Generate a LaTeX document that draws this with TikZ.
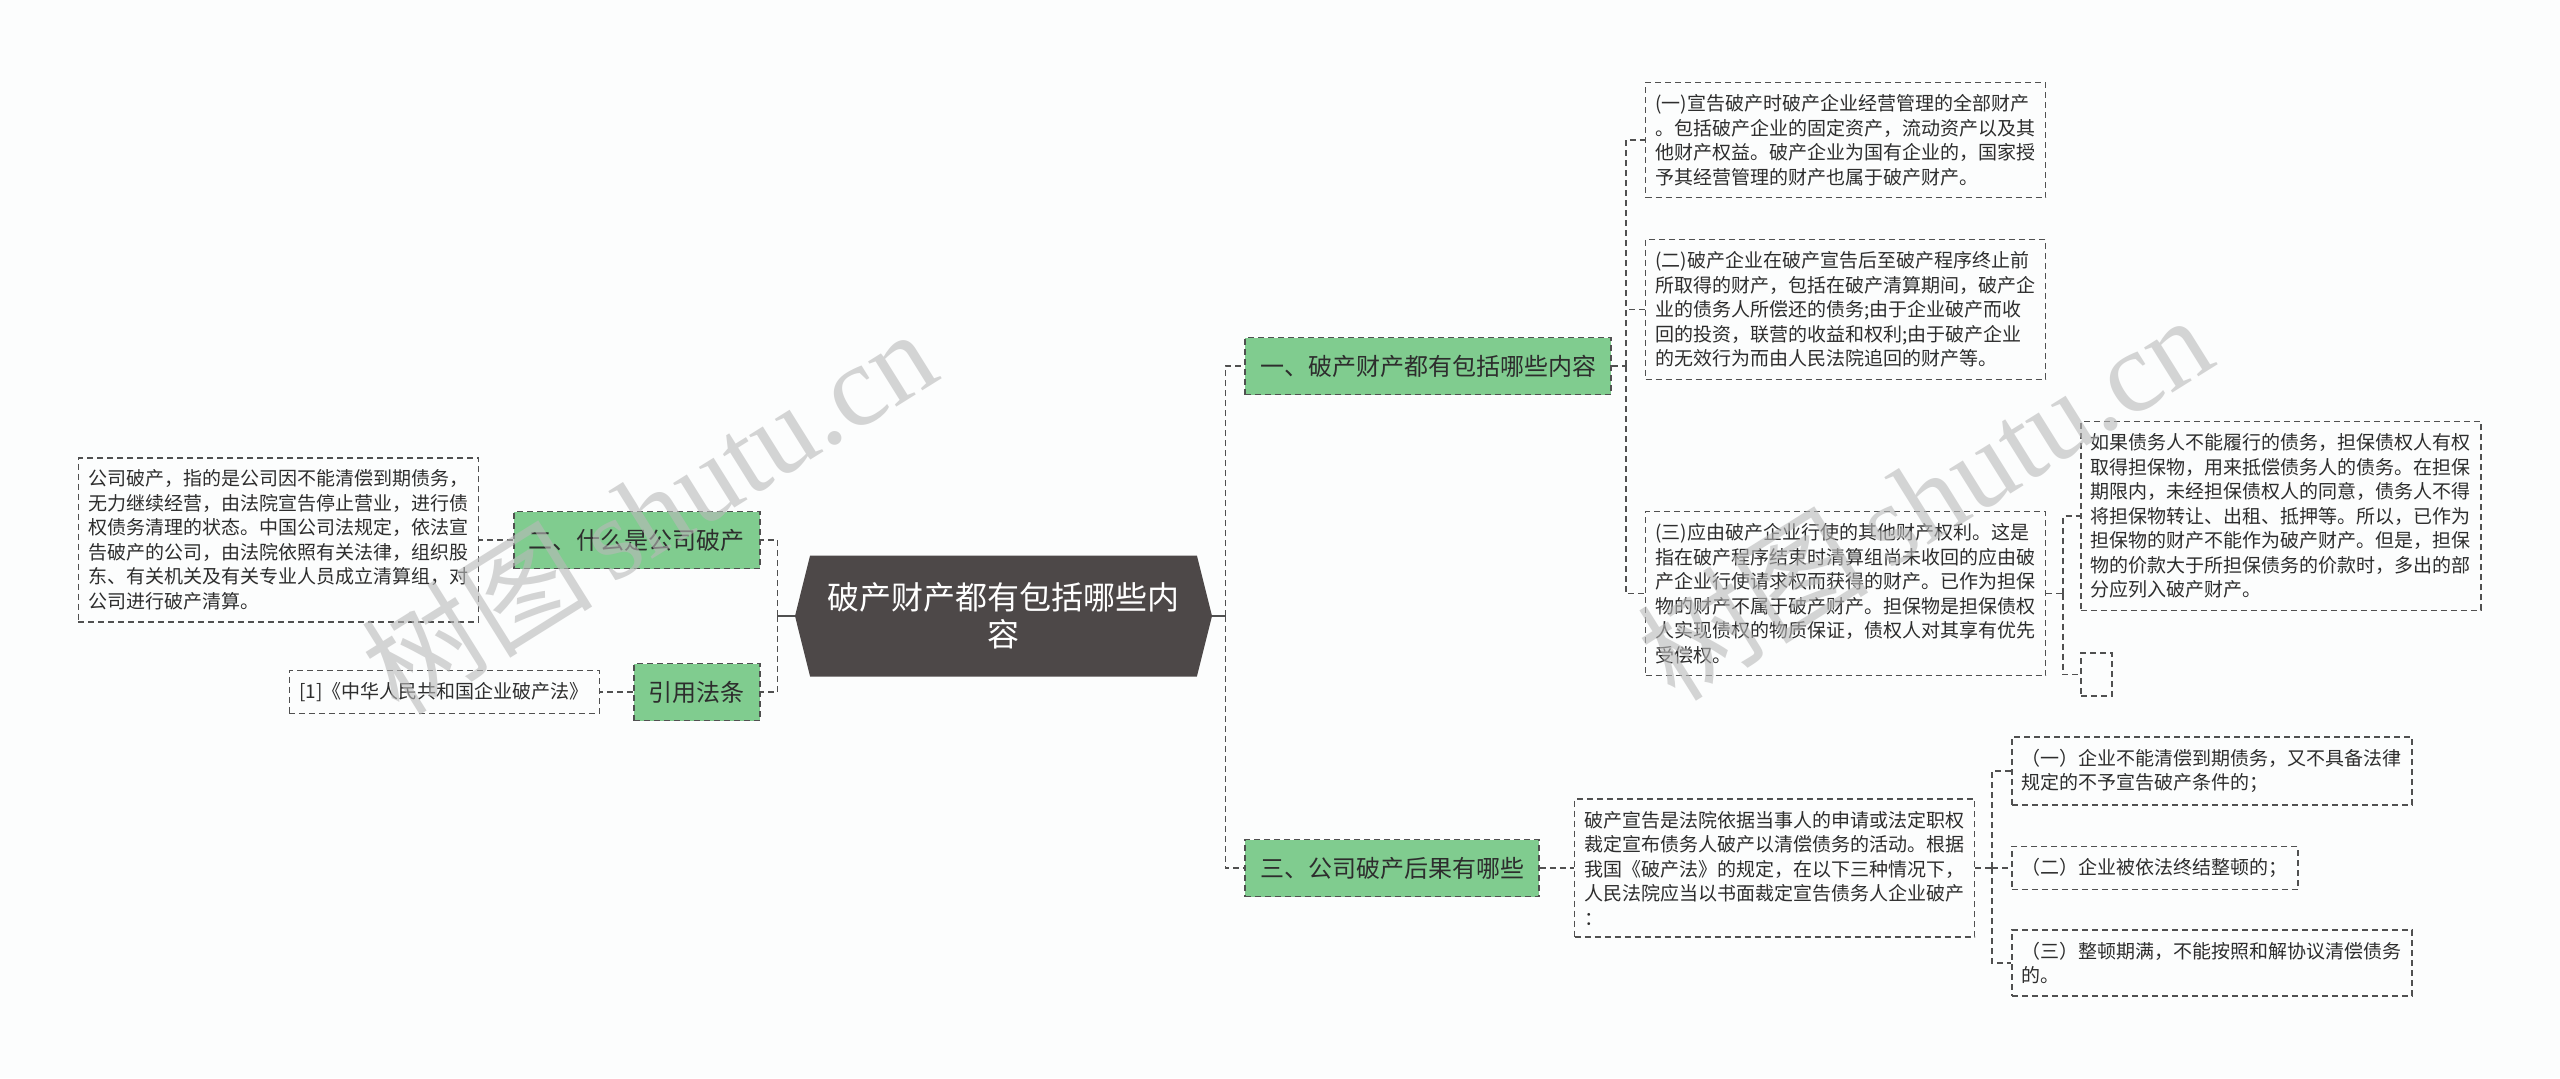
\documentclass[tikz,border=0pt]{standalone}
\usepackage{fontspec}
\setmainfont{Noto Sans CJK SC}
\newfontfamily\wmlatin{Liberation Serif}
\usetikzlibrary{positioning, shapes.symbols}
\definecolor{rootgray}{RGB}{77,72,72}
\definecolor{leafgreen}{RGB}{128,204,143}
\definecolor{edgegray}{RGB}{80,80,80}
\definecolor{inkgray}{RGB}{45,45,45}
\definecolor{paper}{RGB}{252,253,253}
\definecolor{wmgray}{RGB}{185,185,185}

\begin{document}
\begin{tikzpicture}[
    topic/.style={signal, signal to=west and east, signal pointer angle=152, fill=rootgray, text=white, minimum width=208.5pt, minimum height=60.5pt, align=center, font=\fontsize{16}{18.5}\selectfont},
    branch/.style={rectangle, draw=edgegray, dash pattern=on 3pt off 2pt, line width=0.7pt, fill=leafgreen, text=inkgray, minimum height=28.5pt, inner xsep=7.5pt, font=\fontsize{12}{14}\selectfont},
    note/.style={rectangle, draw=edgegray, dash pattern=on 3pt off 2pt, line width=0.7pt, text=inkgray, text width=190pt, align=left, inner xsep=5pt, inner ysep=6pt, font=\fontsize{9.5}{12.25}\selectfont},
    blank/.style={rectangle, draw=edgegray, dash pattern=on 3pt off 2pt, line width=0.7pt, minimum width=15.5pt, minimum height=21.5pt, inner sep=0pt},
    link/.style={draw=edgegray, dash pattern=on 3pt off 2pt, line width=0.75pt},
    stub/.style={draw=edgegray, line width=1.2pt},
    wmark/.style={text=wmgray, opacity=0.6, font=\fontsize{58}{60}\selectfont}
]
\fill[paper] (0,0) rectangle (1280pt,-539pt);
\useasboundingbox (0,0) rectangle (1280pt,-539pt);

\node[topic] (root) at (501.75pt,-308pt) {破产财产都有包括哪些内\\容};

% main branches
\node[branch, right=16pt of root, yshift=125pt] (g1) {一、破产财产都有包括哪些内容};
\node[branch, right=16pt of root, yshift=-126pt] (g3) {三、公司破产后果有哪些};
\node[branch, left=17pt of root, yshift=38pt] (g2) {二、什么是公司破产};
\node[branch, left=17pt of root, yshift=-38pt] (gref) {引用法条};

% left side
\node[note, left=17pt of g2] (defn) {公司破产，指的是公司因不能清偿到期债务，\\无力继续经营，由法院宣告停止营业，进行债\\权债务清理的状态。中国公司法规定，依法宣\\告破产的公司，由法院依照有关法律，组织股\\东、有关机关及有关专业人员成立清算组，对\\公司进行破产清算。};
\node[note, text width=145pt, left=16.5pt of gref] (cite) {[1]《中华人民共和国企业破产法》};

% what the estate holds
\node[note, right=16.5pt of g1, yshift=113pt] (p1) {(一)宣告破产时破产企业经营管理的全部财产\\。包括破产企业的固定资产，流动资产以及其\\他财产权益。破产企业为国有企业的，国家授\\予其经营管理的财产也属于破产财产。};
\node[note, right=16.5pt of g1, yshift=28.25pt] (p2) {(二)破产企业在破产宣告后至破产程序终止前\\所取得的财产，包括在破产清算期间，破产企\\业的债务人所偿还的债务;由于企业破产而收\\回的投资，联营的收益和权利;由于破产企业\\的无效行为而由人民法院追回的财产等。};
\node[note, right=16.5pt of g1, yshift=-113.75pt] (p3) {(三)应由破产企业行使的其他财产权利。这是\\指在破产程序结束时清算组尚未收回的应由破\\产企业行使请求权而获得的财产。已作为担保\\物的财产不属于破产财产。担保物是担保债权\\人实现债权的物质保证，债权人对其享有优先\\受偿权。};
\node[note, right=17pt of p3, yshift=38.75pt] (ex) {如果债务人不能履行的债务，担保债权人有权\\取得担保物，用来抵偿债务人的债务。在担保\\期限内，未经担保债权人的同意，债务人不得\\将担保物转让、出租、抵押等。所以，已作为\\担保物的财产不能作为破产财产。但是，担保\\物的价款大于所担保债务的价款时，多出的部\\分应列入破产财产。};
\node[blank, right=17pt of p3, yshift=-40.5pt] (exnone) {};

% consequences
\node[note, right=17pt of g3] (decl) {破产宣告是法院依据当事人的申请或法定职权\\裁定宣布债务人破产以清偿债务的活动。根据\\我国《破产法》的规定，在以下三种情况下，\\人民法院应当以书面裁定宣告债务人企业破产\\：};
\node[note, right=18pt of decl, yshift=48.5pt] (c1) {（一）企业不能清偿到期债务，又不具备法律\\规定的不予宣告破产条件的；};
\node[note, text width=133pt, right=18pt of decl] (c2) {（二）企业被依法终结整顿的；};
\node[note, right=18pt of decl, yshift=-47.5pt] (c3) {（三）整顿期满，不能按照和解协议清偿债务\\的。};

% connectors
\draw[stub] (root.east) -- ++(6.5pt,0) coordinate (rbus);
\draw[stub] (root.west) -- ++(-8.5pt,0) coordinate (lbus);
\draw[link] (rbus) |- (g1.west);
\draw[link] (rbus) |- (g3.west);
\draw[link] (lbus) |- (g2.east);
\draw[link] (lbus) |- (gref.east);
\draw[link] (g2.west) -- (defn.east);
\draw[link] (gref.west) -- (cite.east);
\draw[link] (g1.east) -- ++(7pt,0) coordinate (g1bus);
\draw[link] (g1bus) |- (p1.west);
\draw[link] (g1bus) |- (p2.west);
\draw[link] (g1bus) |- (p3.west);
\draw[link] (p3.east) -- ++(8.5pt,0) coordinate (p3bus);
\draw[link] (p3bus) |- (ex.west);
\draw[link] (p3bus) |- (exnone.west);
\draw[link] (g3.east) -- (decl.west);
\draw[link] (decl.east) -- ++(8.5pt,0) coordinate (declbus);
\draw[link] (declbus) |- (c1.west);
\draw[link] (declbus) |- (c2.west);
\draw[link] (declbus) |- (c3.west);

% watermarks
\node[wmark, rotate=32] (wmleft) at (324pt,-255pt) {树图\,{\wmlatin shutu.cn}};
\node[wmark, rotate=32] (wmright) at (962pt,-248pt) {树图\,{\wmlatin shutu.cn}};
\end{tikzpicture}
\end{document}
